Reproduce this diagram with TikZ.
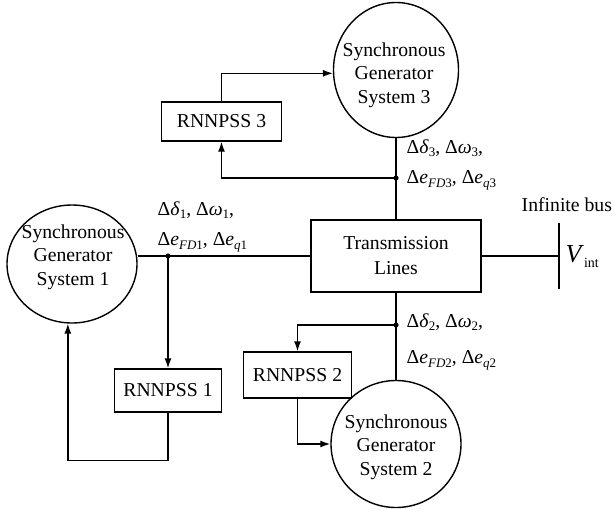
\documentclass[tikz,border=0pt]{standalone}
\usepackage{fontspec}
\setmainfont{Liberation Serif}
\usetikzlibrary{shapes.geometric,arrows.meta}
\newcommand{\lsub}[1]{\raisebox{-4.5pt}{\fontsize{13pt}{13pt}\selectfont #1}}
\newcommand{\dsub}[1]{\raisebox{-3.5pt}{\fontsize{13pt}{13pt}\selectfont #1}}
\begin{document}
\begin{tikzpicture}[x=1pt,y=-1pt,line width=1.4pt,
  every node/.style={font=\fontsize{19.7pt}{23.5pt}\selectfont},
  gen/.style={draw,ellipse,inner sep=0pt},
  gentext/.style={align=center,inner sep=0pt},
  pss/.style={draw,rectangle,inner sep=0pt},
  arr/.style={-{Latex[length=10pt,width=7pt]}},
  lab/.style={anchor=base west,inner sep=0pt},
  jdot/.style={fill=black}]
\useasboundingbox (0,0) rectangle (613,509);
% generators
\node[gen,minimum width=125pt,minimum height=135pt] (c3) at (396,70) {};
\node[gentext] (t3) at (394,75) {Synchronous\\Generator\\System 3};
\node[gen,minimum width=130pt,minimum height=118pt] (c1) at (72,264) {};
\node[gentext] (t1) at (73,257) {Synchronous\\Generator\\System 1};
\node[gen,minimum width=130pt,minimum height=127pt] (c2) at (396,444) {};
\node[gentext] (t2) at (396,447) {Synchronous\\Generator\\System 2};
% boxes
\node[pss,minimum width=170pt,minimum height=72pt,align=center,font=\fontsize{19.7pt}{25pt}\selectfont] (tl) at (396,256) {Transmission\\Lines};
\node[pss,minimum width=120pt,minimum height=39pt] (p3) at (221.5,121.5) {RNNPSS 3};
\node[pss,minimum width=107pt,minimum height=43pt] (p1) at (168,390.5) {RNNPSS 1};
\node[pss,minimum width=108pt,minimum height=46pt] (p2) at (297.5,375) {RNNPSS 2};
% junctions
\coordinate (d3) at (396,178);
\coordinate (d1) at (p1.north |- tl.west);
\coordinate (d2) at (396,325);
\coordinate (bt) at (559,223);
\coordinate (bb) at (559,289);
% connectors
\draw (c3) -- (tl);
\draw (tl) -- (c2);
\draw[arr] (p3.north) |- (c3.183);
\draw[arr] (d3) -| (p3);
\draw (tl.west) -- (tl.west -| c1.east);
\draw[arr] (d1) -- (p1);
\draw[arr] (p1.south) -- ++(0,48) -| (c1.266);
\draw[arr] (d2) -| (p2);
\draw[arr] (p2) |- (c2);
\draw (bt) -- (bb);
\draw (tl.east) -- (tl.east -| bt);
\fill[jdot] (d1) circle (2.6pt);
\fill[jdot] (d2) circle (2.6pt);
\fill[jdot] (d3) circle (2.6pt);
% labels
\node[lab] (l1a) at (157,215) {Δ\textit{δ}\dsub{1}, Δ\textit{ω}\dsub{1},};
\node[lab] (l1b) at (157,245) {Δ\textit{e}\lsub{\textit{FD}1}, Δ\textit{e}\lsub{\textit{q}1}};
\node[lab] (l3a) at (406,153) {Δ\textit{δ}\dsub{3}, Δ\textit{ω}\dsub{3},};
\node[lab] (l3b) at (406,183) {Δ\textit{e}\lsub{\textit{FD}3}, Δ\textit{e}\lsub{\textit{q}3}};
\node[lab] (l2a) at (406,327) {Δ\textit{δ}\dsub{2}, Δ\textit{ω}\dsub{2},};
\node[lab] (l2b) at (406,363) {Δ\textit{e}\lsub{\textit{FD}2}, Δ\textit{e}\lsub{\textit{q}2}};
\node[lab] (ib) at (521,211) {Infinite bus};
\node[lab] (vint) at (565,262) {{\fontsize{26pt}{26pt}\selectfont\textit{V}}\raisebox{-5pt}{\fontsize{14pt}{14pt}\selectfont int}};
\end{tikzpicture}
\end{document}
